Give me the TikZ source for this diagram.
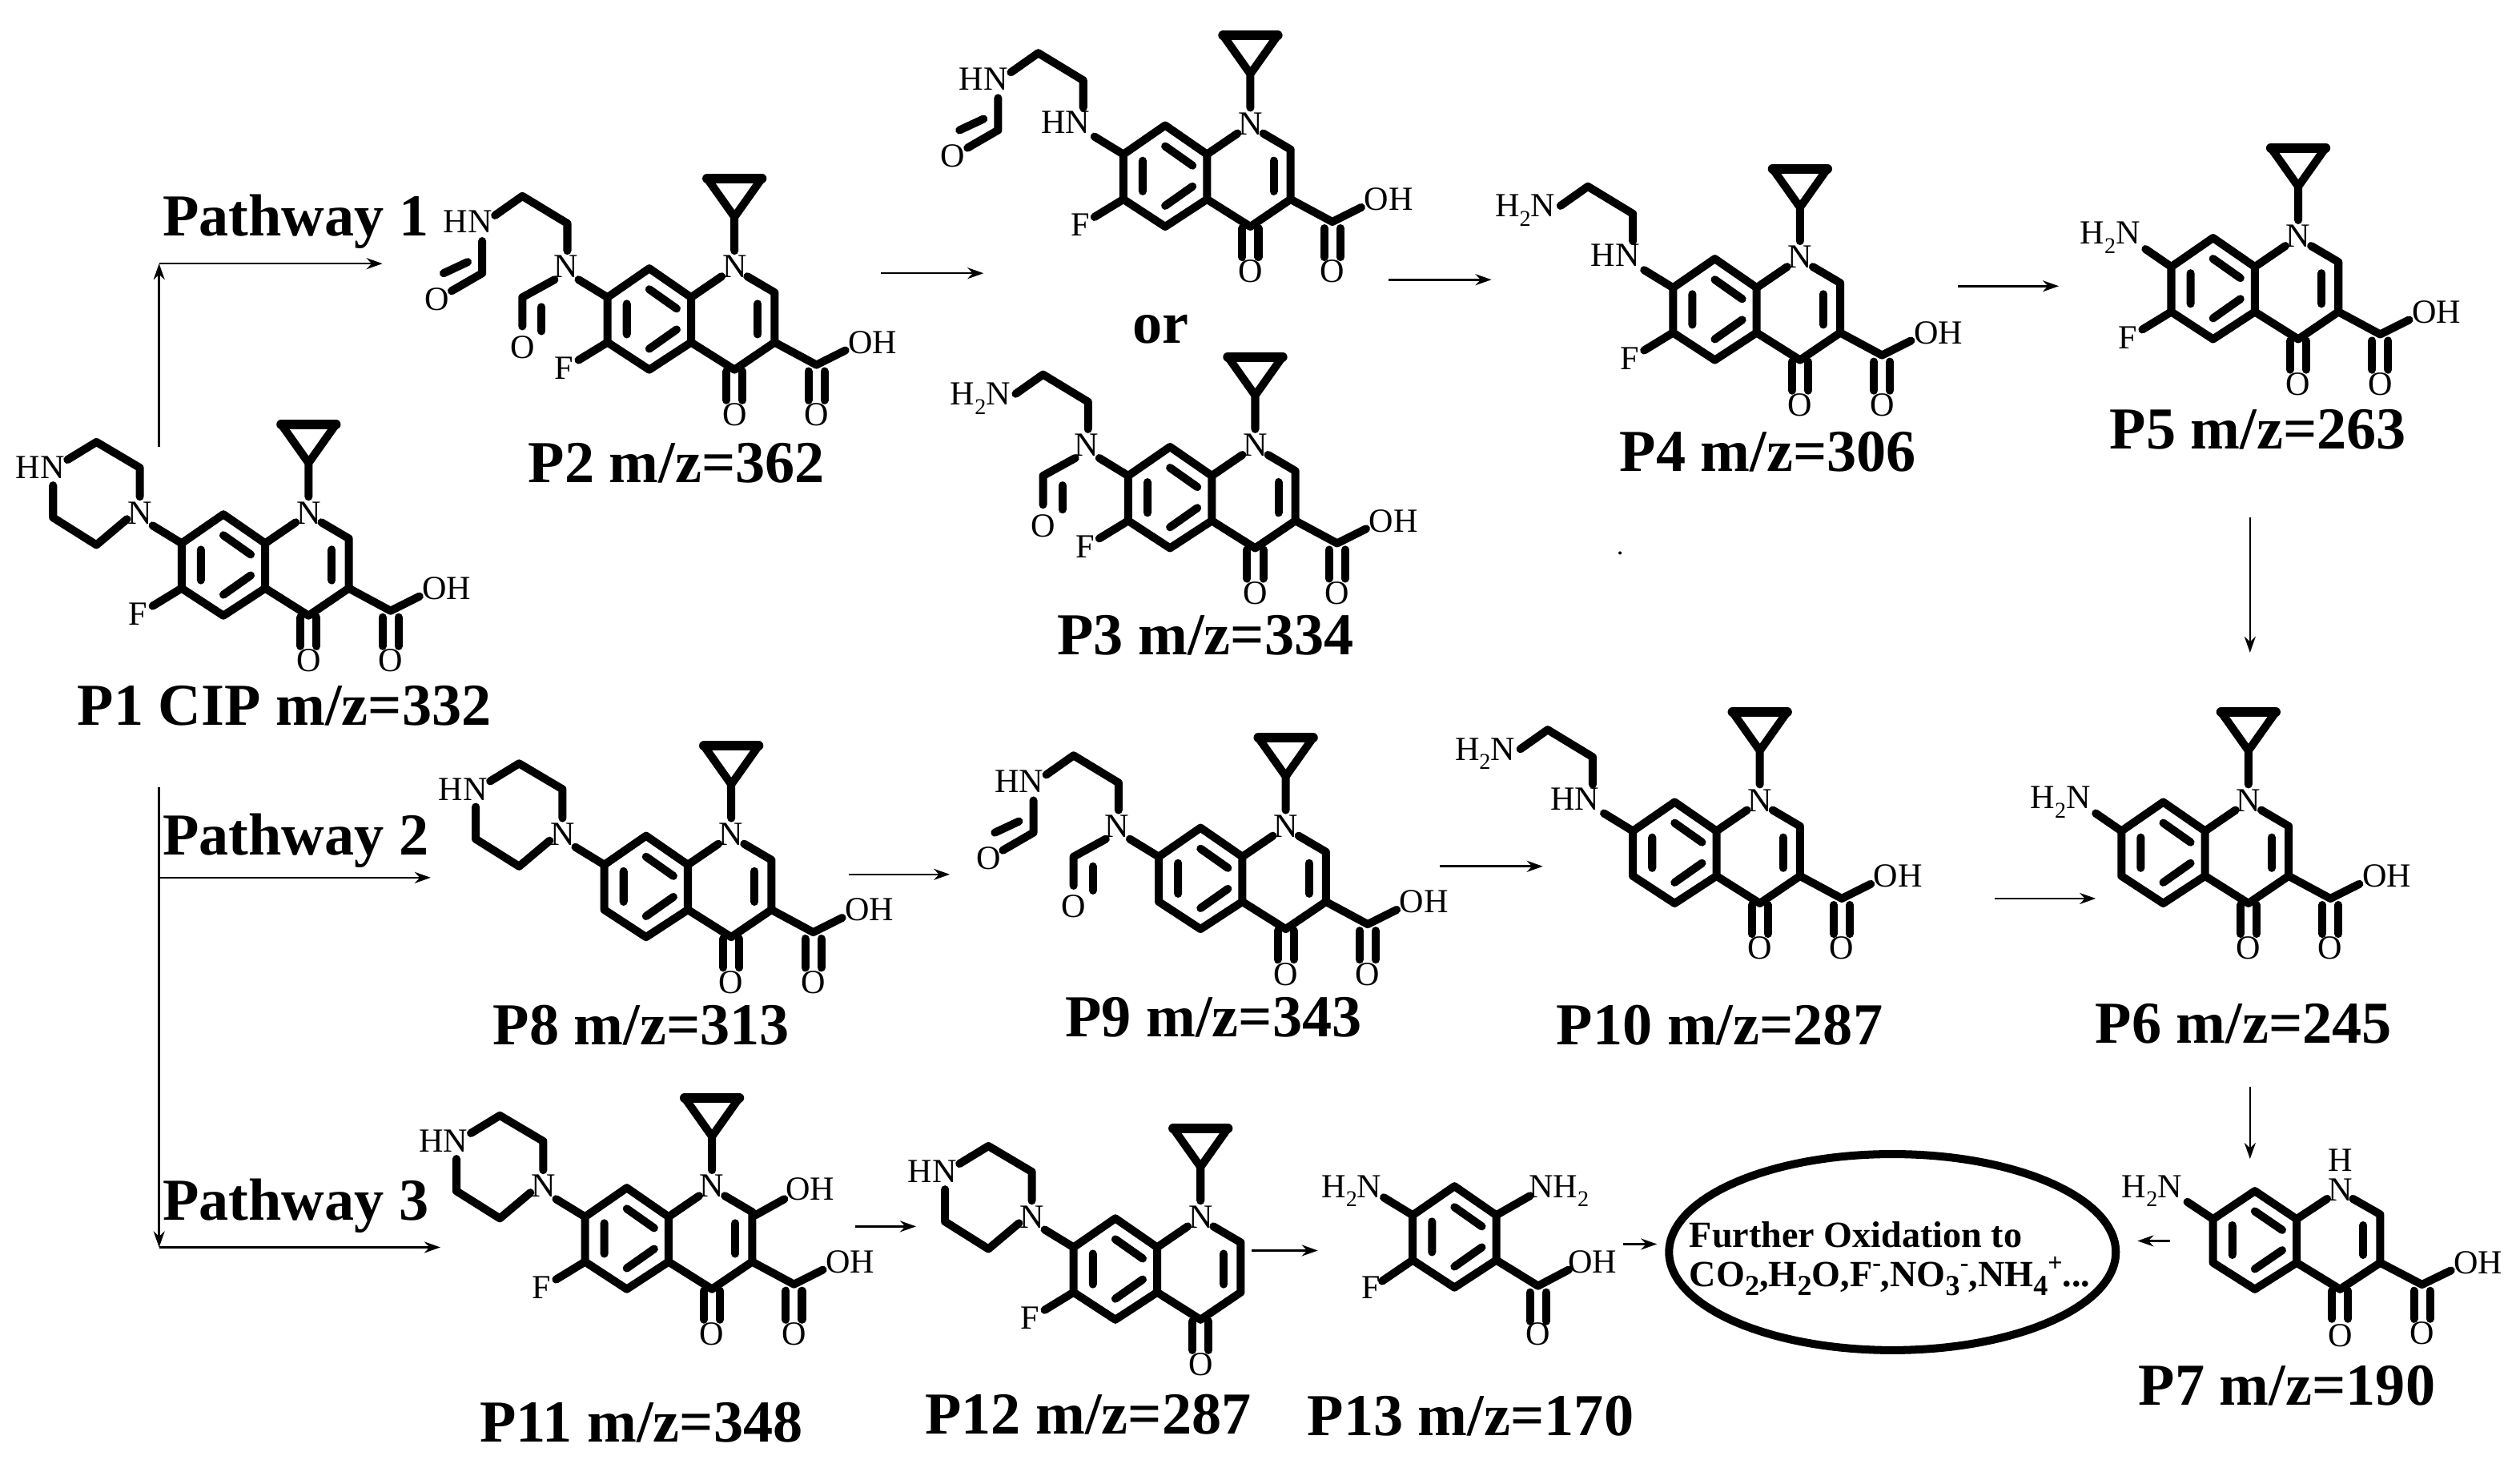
\documentclass[tikz,border=0pt]{standalone}
\usepackage{fontspec}
\setmainfont{Liberation Serif}
\usetikzlibrary{arrows.meta,shapes.geometric}
\newcommand\atomfont{\fontsize{21}{21}\selectfont}
\newcommand\labfont{\fontsize{37}{37}\selectfont\bfseries}
\newcommand\oxfont{\fontsize{23}{26}\selectfont\bfseries}
\newcommand\sbs[1]{\raisebox{-0.28em}{\fontsize{14}{14}\selectfont #1}}
\newcommand\sps[1]{\raisebox{0.42em}{\fontsize{16}{16}\selectfont #1}}
\newcommand\sbx[1]{\raisebox{-0.25em}{\fontsize{18}{18}\selectfont #1}}
\tikzset{
 bond/.style={line width=5pt,line cap=round,line join=round},
 atom/.style={font=\atomfont,inner sep=0pt},
 lab/.style={font=\labfont,inner sep=0pt},
 arr/.style={line width=1.3pt,-{Stealth[length=10pt,width=7pt]}}
}
% ---- pieces in coordinates relative to the ring nitrogen ----
\newcommand\benz{%
 \draw[bond] (-27,19)--(-53,1)--(-79,19)--(-79,47)--(-53,64)--(-27,47)--cycle;
 \draw[bond] (-67,23)--(-67,42) (-53,14)--(-36,26) (-53,51)--(-36,39);}
\newcommand\pyrid{%
 \draw[bond] (-27,19)--(-8,6) (8,6)--(25,16)--(25,47)--(0,64)--(-27,47);
 \draw[bond] (14.5,23)--(14.5,42);
 \draw[bond] (-5,65)--(-5,83) (5,65)--(5,83);}
\newcommand\mol[5]{%
 \begin{scope}[shift={(#2,#3)},yscale=#4]
 \def\mid{#1}
 \benz\pyrid
 \draw[bond] (-17,-55)--(0,-31)--(17,-55) (0,-31)--(0,-10);
 \draw[bond,line width=6pt] (-17,-55)--(17,-55);
 \node[atom] (#1N) at (0,0) {N};
 \node[atom] (#1O) at (0,92) {O};
 #5
 \end{scope}}
\newcommand\cooh{%
 \draw[bond] (25,47)--(51,61)--(69,52);
 \draw[bond] (46,65)--(46,83) (56,65)--(56,83);
 \node[atom] (\mid OH) at (86,47) {OH};
 \node[atom] (\mid OA) at (51,92) {O};}
\newcommand\fluoro{%
 \draw[bond] (-79,47)--(-97,58);
 \node[atom] (\mid F) at (-106,63) {F};}
\newcommand\subN{%
 \draw[bond] (-97,8)--(-79,19);
 \node[atom] (\mid SN) at (-105,0) {N};}
\newcommand\subHN{%
 \draw[bond] (-97,8)--(-79,19);
 \node[atom] (\mid SN) at (-115,-1) {HN};}
\newcommand\chain{%
 \draw[bond] (-104,-10)--(-104,-27)--(-132,-44)--(-149,-32);}
\newcommand\topHN{% formylated upper nitrogen
 \node[atom] (\mid TN) at (-166,-28) {HN};
 \draw[bond] (-157,-16)--(-157,4)--(-176,15);
 \draw[bond] (-166,-3)--(-181,4);
 \node[atom] (\mid TO) at (-185,20) {O};}
\newcommand\topNH{\node[atom] (\mid TN) at (-171,-29) {H\sbs{2}N};}
\newcommand\nCHO{%
 \draw[bond] (-112,8)--(-132,19)--(-132,37);
 \draw[bond] (-120,25)--(-120,40);
 \node[atom] (\mid CO) at (-132,50) {O};}
\newcommand\piper{%
 \draw[bond] (-105,-10)--(-105,-28)--(-132,-44)--(-150,-33);
 \draw[bond] (-159,-17)--(-159,3)--(-132,20)--(-113,4);
 \node[atom] (\mid TN) at (-167,-28) {HN};}
\newcommand\amino{%
 \draw[bond] (-95,8)--(-79,19);
 \node[atom] (\mid SN) at (-117,1) {H\sbs{2}N};}
\begin{document}
\begin{tikzpicture}[x=1pt,y=-1pt]
\useasboundingbox (0,0) rectangle (1568,920.3);
% molecules
\mol{P1}{192}{319}{1}{\cooh\fluoro\subN\piper}
\mol{P2}{457}{166}{1}{\cooh\fluoro\subN\chain\topHN\nCHO}
\mol{Pa}{778}{77}{1}{\cooh\fluoro\subHN\chain\topHN}
\mol{P3}{781}{277}{1}{\cooh\fluoro\subN\chain\topNH\nCHO}
\mol{P4}{1120}{160}{1}{\cooh\fluoro\subHN\chain\topNH}
\mol{P5}{1430}{147}{1}{\cooh\fluoro\amino}
\mol{P6}{1399}{498}{1}{\cooh\amino}
\mol{P8}{455}{519}{1}{\cooh\subN\piper}
\mol{P9}{800}{514}{1}{\cooh\subN\chain\topHN\nCHO}
\mol{P0}{1095}{498}{1}{\cooh\subHN\chain\topNH}
\mol{Pb}{443}{738}{1}{\cooh\fluoro\subN\piper
  \draw[bond] (27,18)--(45,8);
  \node[atom] (PbOH) at (61,2) {OH};}
\mol{Pc}{747}{757}{1}{\fluoro\subN\piper}
% P7, no cyclopropane
\begin{scope}[shift={(1456,740)},yscale=.97]
 \def\mid{P7}
 \benz\pyrid
 \node[atom] (P7N) at (0,0) {N};
 \node[atom] (P7H) at (0,-19) {H};
 \node[atom] (P7O) at (0,94) {O};
 \cooh\amino
\end{scope}
% P13, benzene only
\begin{scope}[shift={(958,737)}]
 \def\mid{Pd}
 \benz
 \draw[bond] (-27,47)--(-1,63)--(18,53);
 \draw[bond] (-6,67)--(-6,85) (4,67)--(4,85);
 \draw[bond] (-27,19)--(-6,7);
 \draw[bond] (-79,19)--(-97,8);
 \draw[bond] (-79,47)--(-98,60);
 \node[atom] (PdA) at (33,48) {OH};
 \node[atom] (PdO) at (-1,93) {O};
 \node[atom] (PdF) at (-105,64) {F};
 \node[atom] (PdL) at (-117,4) {H\sbs{2}N};
 \node[atom] (PdR) at (12,4) {NH\sbs{2}};
\end{scope}
% labels
\node[lab] (lP1) at (177,439) {P1 CIP m/z=332};
\node[lab] (lP2) at (421,288) {P2 m/z=362};
\node[lab] (lP3) at (750,395) {P3 m/z=334};
\node[lab] (lP4) at (1100,281) {P4 m/z=306};
\node[lab] (lP5) at (1405,267) {P5 m/z=263};
\node[lab] (lP6) at (1396,637) {P6 m/z=245};
\node[lab] (lP7) at (1423,862) {P7 m/z=190};
\node[lab] (lP8) at (399,638) {P8 m/z=313};
\node[lab] (lP9) at (755,633) {P9 m/z=343};
\node[lab] (lP10) at (1070,638) {P10 m/z=287};
\node[lab] (lP11) at (399,885) {P11 m/z=348};
\node[lab] (lP12) at (677,880) {P12 m/z=287};
\node[lab] (lP13) at (915,881) {P13 m/z=170};
\node[lab] (lor) at (722,205) {or};
\node[lab] (lW1) at (184,138) {Pathway 1};
\node[lab] (lW2) at (184,523) {Pathway 2};
\node[lab] (lW3) at (184,750) {Pathway 3};
% ellipse
\node[draw,ellipse,line width=5pt,minimum width=278pt,minimum height=122pt,inner sep=0pt,outer sep=0pt] (ox) at (1177.5,779) {};
\node[inner sep=0pt,font=\oxfont,anchor=west] (ox1) at (1051,768) {Further Oxidation to};
\node[inner sep=0pt,font=\oxfont,anchor=west] (ox2) at (1051,794) {CO\sbx{2},H\sbx{2}O,F\sps{-},NO\sbx{3}\sps{-},NH\sbx{4}\sps{+}...};
% arrow ends
\coordinate (a1) at (99,278); \coordinate (a2) at (99,164); \coordinate (a3) at (238,164);
\coordinate (b1) at (548,170); \coordinate (b2) at (612,170);
\coordinate (c1) at (864,174); \coordinate (c2) at (928,174);
\coordinate (d1) at (1218,178); \coordinate (d2) at (1281,178);
\coordinate (e1) at (1400,322); \coordinate (e2) at (1400,406);
\coordinate (f1) at (1400,676); \coordinate (f2) at (1400,721);
\coordinate (g1) at (1350,772); \coordinate (g2) at (1330,772);
\coordinate (h1) at (99,490); \coordinate (h2) at (99,776);
\coordinate (h3) at (99,546); \coordinate (h4) at (268,546);
\coordinate (h5) at (99,776); \coordinate (h6) at (274,776);
\coordinate (i1) at (528,544); \coordinate (i2) at (591,544);
\coordinate (j1) at (896,539); \coordinate (j2) at (960,539);
\coordinate (k1) at (1241,559); \coordinate (k2) at (1304,559);
\coordinate (l1) at (532,763); \coordinate (l2) at (570,763);
\coordinate (m1) at (779,778); \coordinate (m2) at (820,778);
\coordinate (n1) at (1010,774); \coordinate (n2) at (1031,774);
\draw[arr] (a1)--(a2); \draw[arr] (a2)--(a3);
\foreach \s/\t in {b1/b2,c1/c2,d1/d2,e1/e2,f1/f2,g1/g2,h1/h2,h3/h4,h5/h6,i1/i2,j1/j2,k1/k2,l1/l2,m1/m2,n1/n2}{\draw[arr] (\s)--(\t);}
\fill (1008,344) circle (1pt);
\end{tikzpicture}
\end{document}
